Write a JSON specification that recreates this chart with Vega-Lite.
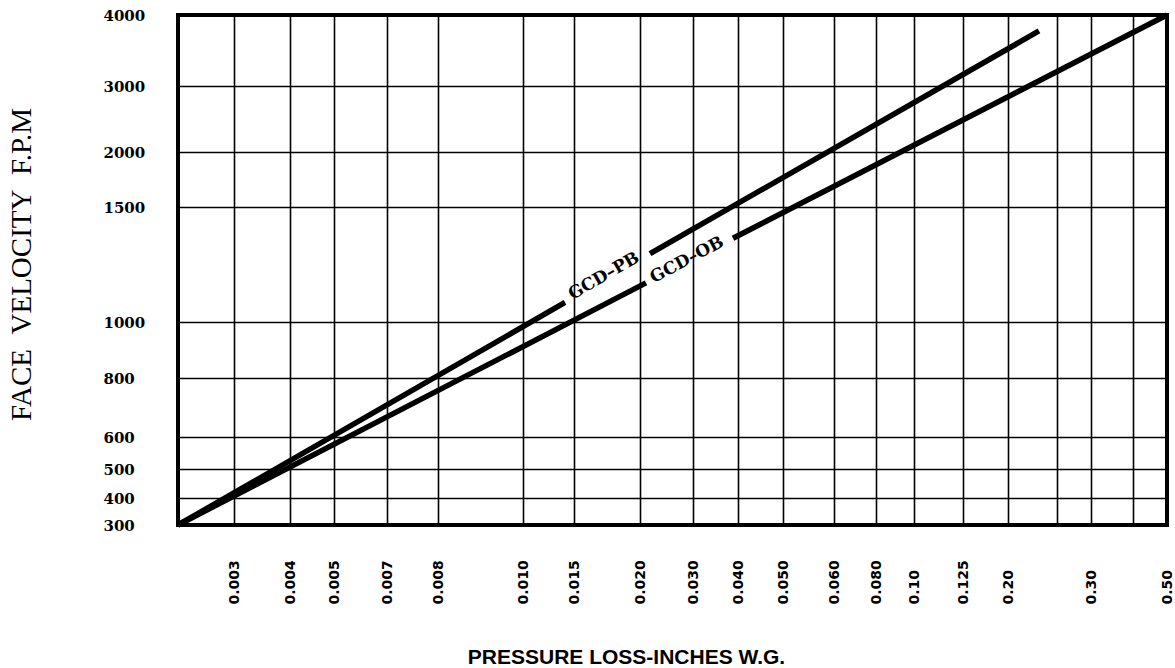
{
  "$schema": "https://vega.github.io/schema/vega-lite/v6.json",
  "width": 989,
  "height": 510,
  "autosize": {"type": "none"},
  "padding": {"left": 178, "top": 15, "right": 8, "bottom": 143},
  "background": "white",
  "config": {
    "view": {"stroke": "black", "strokeWidth": 4},
    "axis": {
      "domain": false,
      "ticks": false,
      "tickSize": 0,
      "grid": true,
      "gridColor": "black",
      "gridWidth": 1.6,
      "gridOpacity": 1,
      "labelOverlap": false,
      "labelBound": false,
      "labelFlush": false,
      "labelColor": "black",
      "titleColor": "black"
    }
  },
  "datasets": {
    "curves": [
      {"series": "GCD-OB", "segment": "OB1", "p": 0.002, "v": 300},
      {"series": "GCD-OB", "segment": "OB1", "p": 0.02113, "v": 1170},
      {"series": "GCD-OB", "segment": "OB2", "p": 0.03889, "v": 1364},
      {"series": "GCD-OB", "segment": "OB2", "p": 0.5, "v": 4000},
      {"series": "GCD-PB", "segment": "PB1", "p": 0.002, "v": 300},
      {"series": "GCD-PB", "segment": "PB1", "p": 0.01412, "v": 1085},
      {"series": "GCD-PB", "segment": "PB2", "p": 0.02189, "v": 1297},
      {"series": "GCD-PB", "segment": "PB2", "p": 0.2316, "v": 3775}
    ],
    "labels": [
      {"label": "GCD–PB", "p": 0.01727, "v": 1200},
      {"label": "GCD–OB", "p": 0.02887, "v": 1270}
    ]
  },
  "encoding": {
    "x": {
      "field": "p",
      "type": "quantitative",
      "scale": {
        "domain": [0.002, 0.003, 0.004, 0.005, 0.007, 0.008, 0.01, 0.015, 0.02, 0.03, 0.04, 0.05, 0.06, 0.08, 0.1, 0.125, 0.2, 0.25, 0.3, 0.4, 0.5],
        "range": [0, 56, 112, 156, 209, 260, 345, 396, 462, 515, 560, 605, 656, 698, 736, 785, 830, 879, 913, 955, 989],
        "nice": false,
        "zero": false
      },
      "axis": {
        "values": [0.003, 0.004, 0.005, 0.007, 0.008, 0.01, 0.015, 0.02, 0.03, 0.04, 0.05, 0.06, 0.08, 0.1, 0.125, 0.2, 0.25, 0.3, 0.4, 0.5],
        "labelExpr": "(datum.value == 0.25 || datum.value == 0.4) ? '' : (datum.value == 0.125 ? '0.125' : (datum.value >= 0.1 ? format(datum.value, '.2f') : format(datum.value, '.3f')))",
        "labelAngle": -90,
        "labelAlign": "left",
        "labelBaseline": "middle",
        "labelPadding": 79,
        "labelFont": "DejaVu Sans",
        "labelFontWeight": "bold",
        "labelFontSize": 14,
        "title": "PRESSURE LOSS-INCHES W.G.",
        "titleFont": "Liberation Sans",
        "titleFontWeight": "bold",
        "titleFontSize": 21,
        "titleX": 448,
        "titleY": 138,
        "titleAlign": "center",
        "titleBaseline": "alphabetic",
        "titleAnchor": null
      }
    },
    "y": {
      "field": "v",
      "type": "quantitative",
      "scale": {
        "domain": [300, 400, 500, 600, 800, 1000, 1500, 2000, 3000, 4000],
        "range": [510, 483, 454, 422, 363, 307, 192, 137, 71, 0],
        "nice": false,
        "zero": false
      },
      "axis": {
        "values": [300, 400, 500, 600, 800, 1000, 1500, 2000, 3000, 4000],
        "format": "d",
        "labelAlign": "left",
        "labelBaseline": "middle",
        "labelPadding": 75,
        "labelFont": "DejaVu Serif",
        "labelFontWeight": "bold",
        "labelFontSize": 15,
        "title": "FACE\u00a0\u00a0VELOCITY\u00a0\u00a0F.P.M",
        "titleFont": "Liberation Serif",
        "titleFontWeight": "normal",
        "titleFontSize": 29,
        "titleAngle": 270,
        "titleX": -157,
        "titleY": 249,
        "titleAlign": "center",
        "titleBaseline": "middle"
      }
    }
  },
  "layer": [
    {
      "data": {"name": "curves"},
      "mark": {"type": "line", "color": "black", "strokeWidth": 5.5, "strokeCap": "butt"},
      "encoding": {"detail": {"field": "segment"}, "order": {"field": "p"}}
    },
    {
      "data": {"name": "labels"},
      "transform": [{"filter": "datum.label == 'GCD–PB'"}],
      "mark": {"type": "text", "font": "DejaVu Serif", "fontWeight": "bold", "fontSize": 17, "align": "center", "baseline": "middle", "angle": 330, "color": "black"},
      "encoding": {"text": {"field": "label"}}
    },
    {
      "data": {"name": "labels"},
      "transform": [{"filter": "datum.label == 'GCD–OB'"}],
      "mark": {"type": "text", "font": "DejaVu Serif", "fontWeight": "bold", "fontSize": 17, "align": "center", "baseline": "middle", "angle": 332, "color": "black"},
      "encoding": {"text": {"field": "label"}}
    }
  ]
}
